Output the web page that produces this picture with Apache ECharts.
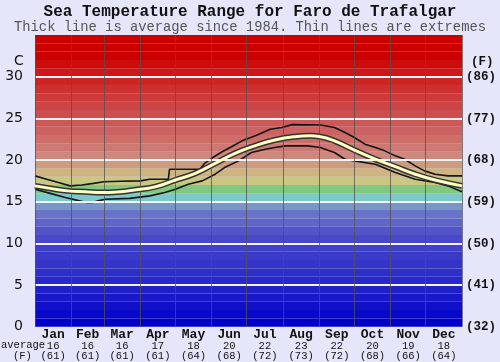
<!DOCTYPE html>
<html>
<head>
<meta charset="utf-8">
<script src="https://cdn.jsdelivr.net/npm/echarts@6/dist/echarts.min.js"></script>
<style>
html,body{margin:0;padding:0;background:#e6e6fa;}
#chart{width:500px;height:362px;}
</style>
</head>
<body>
<div id="chart"></div>
<script>
// ---- data ----
const months = ['Jan','Feb','Mar','Apr','May','Jun','Jul','Aug','Sep','Oct','Nov','Dec'];
const monthAvgC = [16,16,16,17,18,20,22,23,22,20,19,18];
const monthAvgF = [61,61,61,61,64,68,72,73,72,68,66,64];
const monthStartDays = [0,31,59,90,120,151,181,212,243,273,304,334,365];
const yTicksC = [0,5,10,15,20,25,30];
const yTicksF = ['(32)','(41)','(50)','(59)','(68)','(77)','(86)'];

const avgDays  = [0,13,28,43,57,73,85,103,120,137,154,171,188,205,222,235,244,256,273,291,308,325,342,365];
const avgTemps = [16.9,16.6,16.3,16.2,16.1,16.2,16.4,16.8,17.6,18.4,19.6,20.8,21.7,22.4,22.8,22.9,22.8,22.3,21.2,20.1,19.2,18.3,17.6,16.9];

const maxDays  = [0,10,20,30,40,50,59,73,90,98,114,115,141,145,152,160,168,177,190,201,211,220,244,256,265,273,282,291,299,308,316,325,333,342,353,365];
const maxTemps = [18.1,17.7,17.3,16.9,17.0,17.2,17.4,17.45,17.5,17.7,17.7,18.9,18.9,19.6,20.3,21.0,21.6,22.3,23.0,23.7,23.9,24.25,24.2,23.9,23.3,22.7,21.9,21.5,21.1,20.5,20.1,19.3,18.7,18.3,18.1,18.1];

const minDays  = [0,13,26,38,44,49,54,60,81,98,111,120,131,143,154,162,174,185,197,205,214,233,244,248,256,265,273,291,308,325,342,353,365];
const minTemps = [16.5,16.0,15.5,15.1,14.9,14.9,15.1,15.3,15.4,15.7,16.1,16.5,17.1,17.5,18.3,19.1,19.9,20.9,21.3,21.5,21.7,21.7,21.5,21.3,20.9,20.1,19.9,19.5,18.5,17.7,17.3,16.9,16.2];

// ---- styles ----
const bandColors = [
 'rgb(0,0,200)','rgb(8,8,200)','rgb(16,16,200)','rgb(24,24,200)','rgb(32,32,200)',
 'rgb(40,40,200)','rgb(46,46,200)','rgb(52,52,200)','rgb(58,58,200)','rgb(64,64,200)',
 'rgb(72,72,200)','rgb(82,84,200)','rgb(94,100,200)','rgb(104,116,200)','rgb(120,150,200)',
 'rgb(125,200,200)','rgb(130,200,130)','rgb(200,200,130)','rgb(205,180,130)','rgb(205,155,125)',
 'rgb(205,135,125)','rgb(205,120,115)','rgb(205,110,105)','rgb(205,98,98)','rgb(205,88,88)',
 'rgb(205,78,78)','rgb(205,68,68)','rgb(205,58,58)','rgb(205,48,48)','rgb(205,36,36)',
 'rgb(205,24,24)','rgb(205,12,12)','rgb(205,0,0)','rgb(205,0,0)','rgb(205,0,0)'
];
const MONO = '"Liberation Mono","DejaVu Sans Mono",monospace';

const pairs = (xs, ys) => xs.map((x, i) => [x, ys[i]]);
const monthMid = months.map((m, i) => (monthStartDays[i] + monthStartDays[i + 1]) / 2);

const bandAreas = bandColors.map((c, i) => [
  {yAxis: i, itemStyle: {color: c}}, {yAxis: i + 1}
]);
const hLines = yTicksC.filter(v => v > 0).map(v => ({yAxis: v, lineStyle: {color: '#f4f4f4', width: 2, type: 'solid'}}));
const vLines = monthStartDays.map(d => ({xAxis: d, lineStyle: {color: 'rgba(80,80,80,0.75)', width: 1, type: 'solid'}}));

const chart = echarts.init(document.getElementById('chart'));
chart.setOption({
  backgroundColor: '#e6e6fa',
  animation: false,
  grid: {left: 35, right: 38, top: 35, bottom: 34},
  xAxis: {
    type: 'value', min: 0, max: 365,
    axisLine: {show: false}, axisTick: {show: false}, splitLine: {show: false},
    axisLabel: {
      customValues: monthMid,
      margin: 2,
      formatter: function (v) {
        let i = monthMid.findIndex(m => Math.abs(m - v) < 0.01);
        if (i < 0) return '';
        return '{m|' + months[i] + '}\n{v|' + monthAvgC[i] + '}\n{v|(' + monthAvgF[i] + ')}';
      },
      rich: {
        m: {fontFamily: MONO, fontWeight: 'bold', fontSize: 13, color: '#111', lineHeight: 12},
        v: {fontFamily: MONO, fontSize: 10.5, color: '#111', lineHeight: 10.5}
      }
    }
  },
  yAxis: [
    {
      type: 'value', min: 0, max: 35, interval: 5, position: 'left',
      axisLine: {show: false}, axisTick: {show: false}, splitLine: {show: false},
      axisLabel: {
        margin: 12, fontFamily: '"DejaVu Sans",sans-serif', fontSize: 14, color: '#111',
        formatter: v => (v <= 30 ? String(v) : '')
      }
    },
    {
      type: 'value', min: 0, max: 35, interval: 5, position: 'right',
      axisLine: {show: false}, axisTick: {show: false}, splitLine: {show: false},
      axisLabel: {
        margin: 4, fontFamily: MONO, fontWeight: 'bold', fontSize: 12.5, color: '#111',
        formatter: v => (v <= 30 ? yTicksF[v / 5] : '')
      }
    }
  ],
  graphic: [
    {type: 'text', left: 'center', top: 4, style: {text: 'Sea Temperature Range for Faro de Trafalgar', font: 'bold 16px ' + MONO, fill: '#111'}},
    {type: 'text', left: 'center', top: 20, style: {text: 'Thick line is average since 1984. Thin lines are extremes', font: '13.8px ' + MONO, fill: '#555'}},
    {type: 'text', left: 14, top: 54, style: {text: 'C', font: '14px "DejaVu Sans",sans-serif', fill: '#111'}},
    {type: 'text', left: 471, top: 55, style: {text: '(F)', font: 'bold 12.5px ' + MONO, fill: '#111'}},
    {type: 'text', left: 1, top: 340, style: {text: 'average', font: '10.5px ' + MONO, fill: '#111'}},
    {type: 'text', left: 13, top: 351, style: {text: '(F)', font: '10.5px ' + MONO, fill: '#111'}}
  ],
  series: [
    {
      type: 'line', data: [], z: 1, silent: true,
      markArea: {silent: true, data: bandAreas}
    },
    {
      type: 'line', data: [], z: 2, silent: true,
      markLine: {silent: true, symbol: 'none', label: {show: false}, data: hLines.concat(vLines)}
    },
    {
      type: 'line', data: pairs(maxDays, maxTemps), z: 3, symbol: 'none',
      lineStyle: {color: '#151515', width: 1.6}
    },
    {
      type: 'line', data: pairs(minDays, minTemps), z: 3, symbol: 'none',
      lineStyle: {color: '#151515', width: 1.6}
    },
    {
      type: 'line', data: pairs(avgDays, avgTemps), z: 4, symbol: 'none', smooth: true,
      lineStyle: {color: '#333', width: 6}
    },
    {
      type: 'line', data: pairs(avgDays, avgTemps), z: 5, symbol: 'none', smooth: true,
      lineStyle: {color: '#ffffc4', width: 3}
    }
  ]
});
</script>
</body>
</html>
